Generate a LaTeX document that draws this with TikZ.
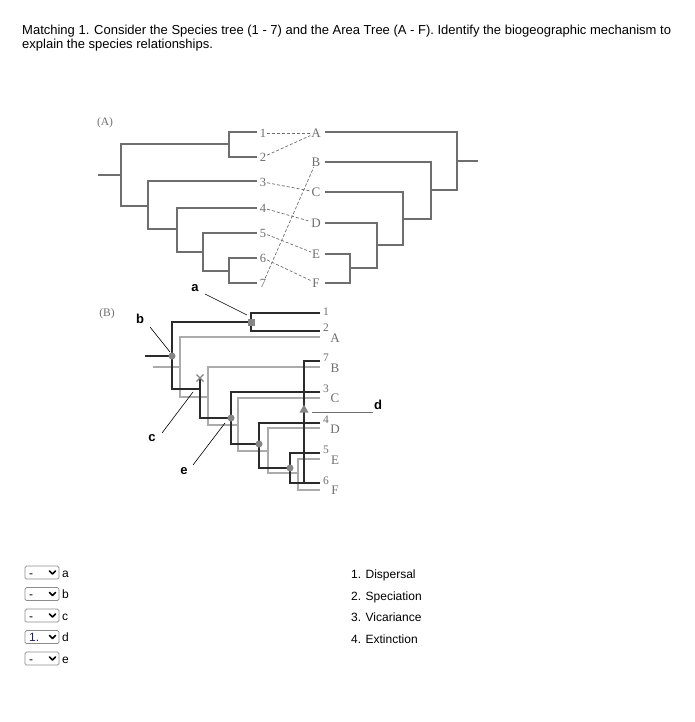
\documentclass[tikz,border=0pt]{standalone}
\usepackage{fontspec}
\setmainfont{Liberation Sans}
\newfontfamily\srf{Liberation Serif}
\usetikzlibrary{shapes.geometric}
\definecolor{gA}{HTML}{6E6E6E}
\definecolor{blk}{HTML}{2B2B2B}
\definecolor{lgr}{HTML}{ABABAB}
\definecolor{mk}{HTML}{858585}
\definecolor{selc}{HTML}{1F1F66}
\begin{document}
\begin{tikzpicture}[x=1pt,y=-1pt,
  treeA/.style={draw=gA, line width=1.8pt},
  treeK/.style={draw=blk, line width=1.9pt},
  treeG/.style={draw=lgr, line width=1.9pt},
  dsh/.style={draw=gA, densely dashed, line width=0.7pt},
  ptr/.style={draw=black, line width=0.6pt},
  num/.style={font=\srf\fontsize{12.5}{12.5}\selectfont, text=gA, inner sep=0.8pt},
  numb/.style={font=\srf\fontsize{11.5}{11.5}\selectfont, text=gA, inner sep=0.8pt},
  let/.style={font=\srf\fontsize{13}{13}\selectfont, text=gA, inner sep=0.8pt},
  tag/.style={font=\bfseries\fontsize{13}{13}\selectfont, inner sep=0pt},
  txt/.style={font=\fontsize{13}{14}\selectfont, anchor=base west, inner sep=0pt},
  lst/.style={font=\fontsize{12}{14}\selectfont, anchor=base west, inner sep=0pt},
  dot/.style={circle, fill=mk, inner sep=0pt, minimum size=7pt},
  sel/.style={draw=gray!90, rounded corners=1.5pt, line width=0.7pt}
]
\useasboundingbox (0,0) rectangle (694,722);
\fill[white] (0,0) rectangle (694,722);

% title
\node[txt] (t1) at (22,35) {Matching 1. Consider the Species tree (1 - 7) and the Area Tree (A - F). Identify the biogeographic mechanism to};
\node[txt] (t2) at (22,49) {explain the species relationships.};

% ---------------- Panel A
\node[num, font=\srf\fontsize{11.5}{11.5}\selectfont] (labA) at (105,123) {(A)};
\draw[treeA] (98,175) -- (121,175);
\draw[treeA] (257,132) -- (229,132) -- (229,157) -- (257,157);
\draw[treeA] (229,144) -- (121,144) -- (121,206) -- (148,206);
\draw[treeA] (257,181) -- (148,181) -- (148,229) -- (177,229);
\draw[treeA] (257,208) -- (177,208) -- (177,252) -- (203,252);
\draw[treeA] (257,233) -- (203,233) -- (203,271) -- (229,271);
\draw[treeA] (257,258) -- (229,258) -- (229,283) -- (257,283);

\node[num] (n1) at (263,133) {1};
\node[num] (n2) at (263,157) {2};
\node[num] (n3) at (263,182) {3};
\node[num] (n4) at (263,208) {4};
\node[num] (n5) at (263,233) {5};
\node[num] (n6) at (263,258) {6};
\node[num] (n7) at (263,283) {7};

\node[let] (nA) at (316,133) {A};
\node[let] (nB) at (316,162) {B};
\node[let] (nC) at (316,192) {C};
\node[let] (nD) at (316,223) {D};
\node[let] (nE) at (316,254) {E};
\node[let] (nF) at (316,283) {F};

\draw[dsh] (n1) -- (nA);
\draw[dsh] (n2) -- (nA);
\draw[dsh] (n3) -- (nC);
\draw[dsh] (n4) -- (nD);
\draw[dsh] (n5) -- (nE);
\draw[dsh] (n6) -- (nF);
\draw[dsh] (n7) -- (nB);

\draw[treeA] (325,132) -- (457,132) -- (457,190) -- (431,190);
\draw[treeA] (457,161) -- (478,161);
\draw[treeA] (325,162) -- (431,162) -- (431,219) -- (403,219);
\draw[treeA] (325,192) -- (403,192) -- (403,245) -- (377,245);
\draw[treeA] (325,223) -- (377,223) -- (377,268) -- (350,268);
\draw[treeA] (325,254) -- (350,254) -- (350,283) -- (325,283);

% ---------------- Panel B
\node[num, font=\srf\fontsize{11.5}{11.5}\selectfont] (labB) at (107,314) {(B)};
% gray (area) lines
\draw[treeG] (153,367) -- (180,367);
\draw[treeG] (320,337) -- (180,337) -- (180,397) -- (208,397);
\draw[treeG] (320,367) -- (208,367) -- (208,425) -- (238,425);
\draw[treeG] (320,398) -- (238,398) -- (238,451) -- (268,451);
\draw[treeG] (320,428) -- (268,428) -- (268,473) -- (298,473);
\draw[treeG] (320,459) -- (298,459) -- (298,490) -- (320,490);
% black (species) lines
\draw[treeK] (145,356) -- (172,356);
\draw[treeK] (251,322) -- (172,322) -- (172,389) -- (200,389);
\draw[treeK] (320,313) -- (251,313) -- (251,331) -- (320,331);
\draw[treeK] (200,378) -- (200,418) -- (231,418);
\draw[treeK] (320,392) -- (231,392) -- (231,444) -- (259,444);
\draw[treeK] (320,423) -- (259,423) -- (259,468) -- (290,468);
\draw[treeK] (320,453) -- (290,453) -- (290,483) -- (320,483);
\draw[treeK] (304,483) -- (304,361) -- (320,361);

% markers
\node[fill=mk, inner sep=0pt, minimum size=7pt] (sq) at (251,322) {};
\node[dot] (c1) at (172,356) {};
\node[dot] (c2) at (231,418) {};
\node[dot] (c3) at (259,444) {};
\node[dot] (c4) at (290,468) {};
\draw[draw=mk, line width=1.1pt] (196.5,374.5) -- (203.5,381.5) (196.5,381.5) -- (203.5,374.5);
\node[isosceles triangle, isosceles triangle apex angle=60, shape border rotate=90, fill=mk, inner sep=0pt, minimum width=9pt, minimum height=8pt] (tri) at (304,410) {};

% leaf labels B
\node[numb] (m1) at (326,312) {1};
\node[numb] (m2) at (326,328) {2};
\node[numb] (m7) at (326,358) {7};
\node[numb] (m3) at (326,389) {3};
\node[numb] (m4) at (326,420) {4};
\node[numb] (m5) at (326,450) {5};
\node[numb] (m6) at (326,481) {6};
\node[let] (mA) at (335,338) {A};
\node[let] (mB) at (335,368) {B};
\node[let] (mC) at (335,398) {C};
\node[let] (mD) at (335,429) {D};
\node[let] (mE) at (335,460) {E};
\node[let] (mF) at (335,490) {F};

% pointer labels
\node[tag] (la) at (195,288) {a};
\node[tag] (lb) at (140,319) {b};
\node[tag] (lc) at (152,438) {c};
\node[tag] (ld) at (378,405) {d};
\node[tag] (le) at (184,471) {e};
\coordinate (pa1) at (205,294); \coordinate (pa2) at (247,315);
\coordinate (pb1) at (150,327); \coordinate (pb2) at (170,352);
\coordinate (pc1) at (162,433); \coordinate (pc2) at (193,392);
\coordinate (pd1) at (312,412); \coordinate (pd2) at (373,412);
\coordinate (pe1) at (193,465); \coordinate (pe2) at (225,423);
\draw[ptr] (pa1) -- (pa2);
\draw[ptr] (pb1) -- (pb2);
\draw[ptr] (pc1) -- (pc2);
\draw[ptr, draw=gA] (pd1) -- (pd2);
\draw[ptr] (pe1) -- (pe2);

% ---------------- Answer area
\foreach \t/\lab/\val [count=\i] in {566/a/-, 587.5/b/-, 609/c/-, 630.5/d/1., 652/e/-}{
  \draw[sel] (25,\t) rectangle (59,\t+13);
  \draw[line width=1.6pt, line cap=round, line join=round] (49.5,\t+5) -- (52.5,\t+8) -- (55.5,\t+5);
  \node[font=\fontsize{12}{12}\selectfont, anchor=base west, inner sep=0pt] (l\i) at (62,\t+11) {\lab};
}
\node[font=\fontsize{12}{12}\selectfont, anchor=base west, inner sep=0pt] (v1) at (29,577) {-};
\node[font=\fontsize{12}{12}\selectfont, anchor=base west, inner sep=0pt] (v2) at (29,598.5) {-};
\node[font=\fontsize{12}{12}\selectfont, anchor=base west, inner sep=0pt] (v3) at (29,620) {-};
\node[font=\fontsize{12}{12}\selectfont, anchor=base west, inner sep=0pt, text=selc] (v4) at (29,641.5) {1.};
\node[font=\fontsize{12}{12}\selectfont, anchor=base west, inner sep=0pt] (v5) at (29,663) {-};

\node[lst] (o1) at (351,578) {1. Dispersal};
\node[lst] (o2) at (351,600) {2. Speciation};
\node[lst] (o3) at (351,621) {3. Vicariance};
\node[lst] (o4) at (351,643) {4. Extinction};
\end{tikzpicture}
\end{document}
